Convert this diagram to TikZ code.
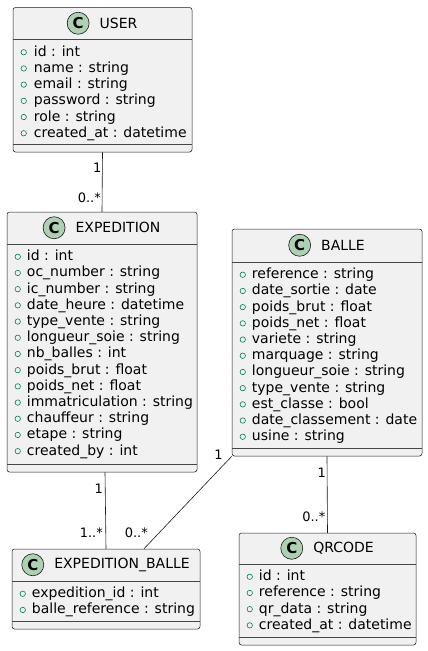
\documentclass[tikz,border=0pt]{standalone}
\usepackage{fontspec}
\setmainfont{DejaVu Sans}
\usetikzlibrary{calc,positioning}
\definecolor{boxfill}{HTML}{F1F1F1}
\definecolor{boxline}{HTML}{181818}
\definecolor{circfill}{HTML}{ADD1B2}
\definecolor{pubgreen}{HTML}{038048}
\tikzset{
  cls/.style={rectangle,rounded corners=2.5pt,draw=boxline,fill=boxfill,line width=.5pt,inner sep=0pt},
  sep/.style={draw=boxline!80,line width=.5pt},
  ttl/.style={font=\fontsize{14}{16}\selectfont,inner sep=0pt},
  cc/.style={circle,draw=boxline,fill=circfill,line width=.6pt,minimum size=22pt,inner sep=0pt,
    font=\fontsize{15}{15}\selectfont\bfseries},
  atr/.style={font=\fontsize{14}{16}\selectfont,inner sep=0pt,anchor=base west},
  pubdot/.style={circle,draw=pubgreen,line width=.6pt,minimum size=5.4pt,inner sep=0pt},
  lnk/.style={draw=boxline,line width=.6pt},
  mult/.style={font=\fontsize{13}{15}\selectfont,inner sep=0pt,anchor=east},
}
\begin{document}
\begin{tikzpicture}[x=1pt,y=-1pt]
\useasboundingbox (0,0) rectangle (428,651);
% USER
\node[cls,minimum width=179pt,minimum height=144.5pt] (user) at (102.5,79.75) {};
\node[ttl] (usert) at ($(user.north)+(16,16)$) {USER};
\node[cc,left=10pt of usert] (userc) {C};
\draw[sep] ($(user.north west)+(0,32)$) -- ($(user.north east)+(0,32)$);
\draw[sep] ($(user.south west)+(0,-8)$) -- ($(user.south east)+(0,-8)$);
\foreach \a [count=\i from 0] in {id : int,name : string,email : string,password : string,
    role : string,created\_at : datetime}{
  \node[pubdot] (user-b\i) at ($(user.north west)+(11,45+16.2*\i)$) {};
  \node[atr] (user-a\i) at ($(user.north west)+(21,49+16.2*\i)$) {\a};
}
% EXPEDITION
\node[cls,minimum width=190pt,minimum height=260pt] (exp) at (102,342) {};
\node[ttl] (expt) at ($(exp.north)+(16,16)$) {EXPEDITION};
\node[cc,left=10pt of expt] (expc) {C};
\draw[sep] ($(exp.north west)+(0,32)$) -- ($(exp.north east)+(0,32)$);
\draw[sep] ($(exp.south west)+(0,-8)$) -- ($(exp.south east)+(0,-8)$);
\foreach \a [count=\i from 0] in {id : int,oc\_number : string,ic\_number : string,
    date\_heure : datetime,type\_vente : string,longueur\_soie : string,nb\_balles : int,
    poids\_brut : float,poids\_net : float,immatriculation : string,chauffeur : string,
    etape : string,created\_by : int}{
  \node[pubdot] (exp-b\i) at ($(exp.north west)+(11,45+16.2*\i)$) {};
  \node[atr] (exp-a\i) at ($(exp.north west)+(20,49+16.2*\i)$) {\a};
}
% BALLE
\node[cls,minimum width=190pt,minimum height=227pt] (balle) at (327,342.5) {};
\node[ttl] (ballet) at ($(balle.north)+(16,16.5)$) {BALLE};
\node[cc,left=10pt of ballet] (ballec) {C};
\draw[sep] ($(balle.north west)+(0,33)$) -- ($(balle.north east)+(0,33)$);
\draw[sep] ($(balle.south west)+(0,-8)$) -- ($(balle.south east)+(0,-8)$);
\foreach \a [count=\i from 0] in {reference : string,date\_sortie : date,poids\_brut : float,
    poids\_net : float,variete : string,marquage : string,longueur\_soie : string,
    type\_vente : string,est\_classe : bool,date\_classement : date,usine : string}{
  \node[pubdot] (balle-b\i) at ($(balle.north west)+(11,46+16.2*\i)$) {};
  \node[atr] (balle-a\i) at ($(balle.north west)+(20,50+16.2*\i)$) {\a};
}
% EXPEDITION_BALLE
\node[cls,minimum width=188pt,minimum height=80pt] (eb) at (106,589) {};
\node[ttl] (ebt) at ($(eb.north)+(16,16)$) {EXPEDITION\_BALLE};
\node[cc,left=10pt of ebt] (ebc) {C};
\draw[sep] ($(eb.north west)+(0,32)$) -- ($(eb.north east)+(0,32)$);
\draw[sep] ($(eb.south west)+(0,-8)$) -- ($(eb.south east)+(0,-8)$);
\foreach \a [count=\i from 0] in {expedition\_id : int,balle\_reference : string}{
  \node[pubdot] (eb-b\i) at ($(eb.north west)+(11,45+16.2*\i)$) {};
  \node[atr] (eb-a\i) at ($(eb.north west)+(20,49+16.2*\i)$) {\a};
}
% QRCODE
\node[cls,minimum width=177pt,minimum height=112pt] (qr) at (327.5,589) {};
\node[ttl] (qrt) at ($(qr.north)+(16,15.5)$) {QRCODE};
\node[cc,left=10pt of qrt] (qrc) {C};
\draw[sep] ($(qr.north west)+(0,31)$) -- ($(qr.north east)+(0,31)$);
\draw[sep] ($(qr.south west)+(0,-8)$) -- ($(qr.south east)+(0,-8)$);
\foreach \a [count=\i from 0] in {id : int,reference : string,qr\_data : string,
    created\_at : datetime}{
  \node[pubdot] (qr-b\i) at ($(qr.north west)+(11,44+16.2*\i)$) {};
  \node[atr] (qr-a\i) at ($(qr.north west)+(20,48+16.2*\i)$) {\a};
}
% associations
\draw[lnk] (user.south) -- (exp.north);
\node[mult] (m1) at ($(user.south)+(-1,16)$) {1};
\node[mult] (m2) at ($(exp.north)+(-1,-14)$) {0..*};
\draw[lnk] ($(exp.south)+(3,0)$) -- (eb.north);
\node[mult] (m3) at ($(exp.south)+(1,17)$) {1};
\node[mult] (m4) at ($(eb.north)+(-3,-16)$) {1..*};
\draw[lnk] (balle.south west) -- ($(eb.north)+(38,0)$);
\node[mult] (m5) at ($(balle.south west)+(-9,-1)$) {1};
\node[mult] (m6) at ($(eb.north)+(42,-16)$) {0..*};
\draw[lnk] (balle.south) -- (qr.north);
\node[mult] (m7) at ($(balle.south)+(-1,17)$) {1};
\node[mult] (m8) at ($(qr.north)+(-2,-16)$) {0..*};
\end{tikzpicture}
\end{document}
